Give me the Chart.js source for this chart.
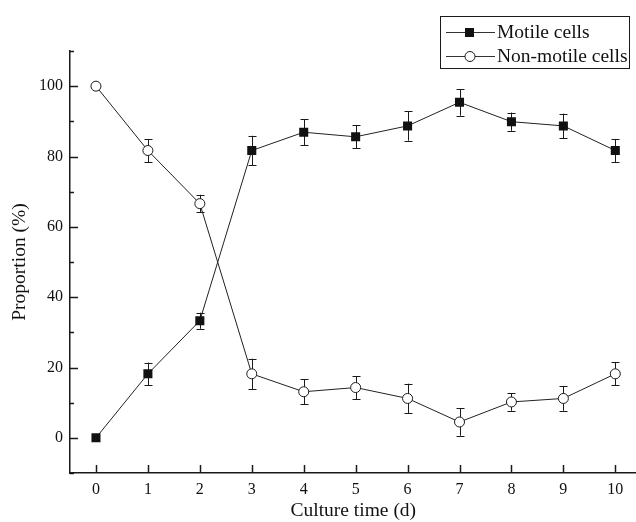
<!DOCTYPE html>
<html>
<head>
<meta charset="utf-8">
<script src="https://cdn.jsdelivr.net/npm/chart.js@4/dist/chart.umd.min.js"></script>
<style>
html,body{margin:0;padding:0;background:#fff;overflow:hidden;}
#wrap{width:636px;height:522px;overflow:hidden;}
</style>
</head>
<body>
<div id="wrap"><canvas id="c" width="643" height="522"></canvas></div>
<script>
const days = [0,1,2,3,4,5,6,7,8,9,10];
const motile = [0,18.2,33.3,81.7,86.9,85.6,88.7,95.4,89.9,88.7,81.7];
const motileErr = [0,3.2,2.3,4.2,3.7,3.3,4.2,3.8,2.6,3.5,3.3];
const nonMotile = [100,81.7,66.6,18.2,13.1,14.3,11.2,4.5,10.2,11.2,18.2];
const nonMotileErr = [0,3.3,2.5,4.3,3.6,3.3,4.2,3.9,2.5,3.5,3.3];
const yMajorTicks = [0,20,40,60,80,100];
const yMinorTicks = [-10,10,30,50,70,90,110];
const xTicks = [0,1,2,3,4,5,6,7,8,9,10];
const seriesNames = ['Motile cells','Non-motile cells'];

const FONT = "'Liberation Serif','Times New Roman',serif";
const INK = '#1a1a1a';

const errorBars = {
  id:'errorBars',
  beforeDatasetsDraw(chart){
    const ctx = chart.ctx, xs = chart.scales.x, ys = chart.scales.y;
    const sets = [[motile,motileErr],[nonMotile,nonMotileErr]];
    ctx.save();
    ctx.strokeStyle = INK; ctx.lineWidth = 1;
    sets.forEach(([vals,errs])=>{
      vals.forEach((v,i)=>{
        const e = errs[i]; if(!e) return;
        const x = Math.round(xs.getPixelForValue(days[i]))+0.5;
        const y1 = ys.getPixelForValue(v+e), y2 = ys.getPixelForValue(v-e);
        ctx.beginPath();
        ctx.moveTo(x,y1); ctx.lineTo(x,y2);
        ctx.moveTo(x-4,Math.round(y1)+0.5); ctx.lineTo(x+4,Math.round(y1)+0.5);
        ctx.moveTo(x-4,Math.round(y2)+0.5); ctx.lineTo(x+4,Math.round(y2)+0.5);
        ctx.stroke();
      });
    });
    ctx.restore();
  }
};

const axisTicks = {
  id:'axisTicks',
  afterDraw(chart){
    const ctx = chart.ctx, xs = chart.scales.x, ys = chart.scales.y, a = chart.chartArea;
    ctx.save();
    ctx.strokeStyle = INK; ctx.lineWidth = 1.5;
    ctx.beginPath();
    yMajorTicks.forEach(t=>{const y=Math.round(ys.getPixelForValue(t))+0.5; ctx.moveTo(a.left,y); ctx.lineTo(a.left+8,y);});
    yMinorTicks.forEach(t=>{const y=Math.round(ys.getPixelForValue(t))+0.5; ctx.moveTo(a.left,y); ctx.lineTo(a.left+4,y);});
    xTicks.forEach(t=>{const x=Math.round(xs.getPixelForValue(t))+0.5; ctx.moveTo(x,a.bottom); ctx.lineTo(x,a.bottom-8);});
    ctx.stroke();
    ctx.restore();
  }
};

const boxLegend = {
  id:'boxLegend',
  afterDraw(chart){
    const ctx = chart.ctx;
    const bx = 440.5, by = 16.5, bw = 189, bh = 52;
    ctx.save();
    ctx.strokeStyle = INK; ctx.lineWidth = 1;
    ctx.strokeRect(bx,by,bw,bh);
    const rows = [32,56];
    rows.forEach((ry,i)=>{
      ctx.strokeStyle = '#333'; ctx.lineWidth = 1;
      ctx.beginPath(); ctx.moveTo(446,ry+0.5); ctx.lineTo(495,ry+0.5); ctx.stroke();
      if(i===0){
        ctx.fillStyle = '#111';
        ctx.fillRect(465,ry-4,9,9);
      } else {
        ctx.fillStyle = '#fff'; ctx.strokeStyle = INK;
        ctx.beginPath(); ctx.arc(470,ry+0.5,5,0,Math.PI*2); ctx.fill(); ctx.stroke();
      }
      ctx.fillStyle = '#111';
      ctx.font = '19.5px ' + FONT;
      ctx.textBaseline = 'middle';
      ctx.fillText(seriesNames[i],497,ry+1);
    });
    ctx.restore();
  }
};

new Chart(document.getElementById('c'),{
  type:'line',
  data:{
    datasets:[
      {label:seriesNames[0],data:days.map((d,i)=>({x:d,y:motile[i]})),borderColor:'#222',borderWidth:1,
       pointStyle:'rect',pointRadius:6.4,pointBackgroundColor:'#111',pointBorderColor:'#111',pointBorderWidth:0,tension:0},
      {label:seriesNames[1],data:days.map((d,i)=>({x:d,y:nonMotile[i]})),borderColor:'#222',borderWidth:1,
       pointStyle:'circle',pointRadius:5,pointBackgroundColor:'#fff',pointBorderColor:INK,pointBorderWidth:1,tension:0}
    ]
  },
  options:{
    responsive:false,animation:false,
    layout:{padding:{left:0,right:0,top:51,bottom:0}},
    plugins:{legend:{display:false},tooltip:{enabled:false}},
    scales:{
      x:{type:'linear',min:-0.5,max:10.41,
         afterBuildTicks(s){s.ticks = xTicks.map(v=>({value:v}));},
         afterFit(s){s.height = 49; s.paddingLeft = 0; s.paddingRight = 0;},
         grid:{display:false,drawTicks:false},
         border:{display:true,color:INK,width:1.5},
         ticks:{padding:7,color:'#111',font:{family:FONT,size:16},maxRotation:0,autoSkip:false},
         title:{display:true,text:'Culture time (d)',color:'#111',font:{family:FONT,size:19.5},padding:{top:0,bottom:-1}}
      },
      y:{type:'linear',min:-10,max:110,
         afterBuildTicks(s){s.ticks = yMajorTicks.map(v=>({value:v}));},
         afterFit(s){s.width = 70; s.paddingTop = 0; s.paddingBottom = 0;},
         grid:{display:false,drawTicks:false},
         border:{display:true,color:INK,width:1.5},
         ticks:{padding:7,color:'#111',font:{family:FONT,size:16}},
         title:{display:true,text:'Proportion (%)',color:'#111',font:{family:FONT,size:19.5},padding:{top:8,bottom:0}}
      }
    }
  },
  plugins:[errorBars,axisTicks,boxLegend]
});
</script>
</body>
</html>
